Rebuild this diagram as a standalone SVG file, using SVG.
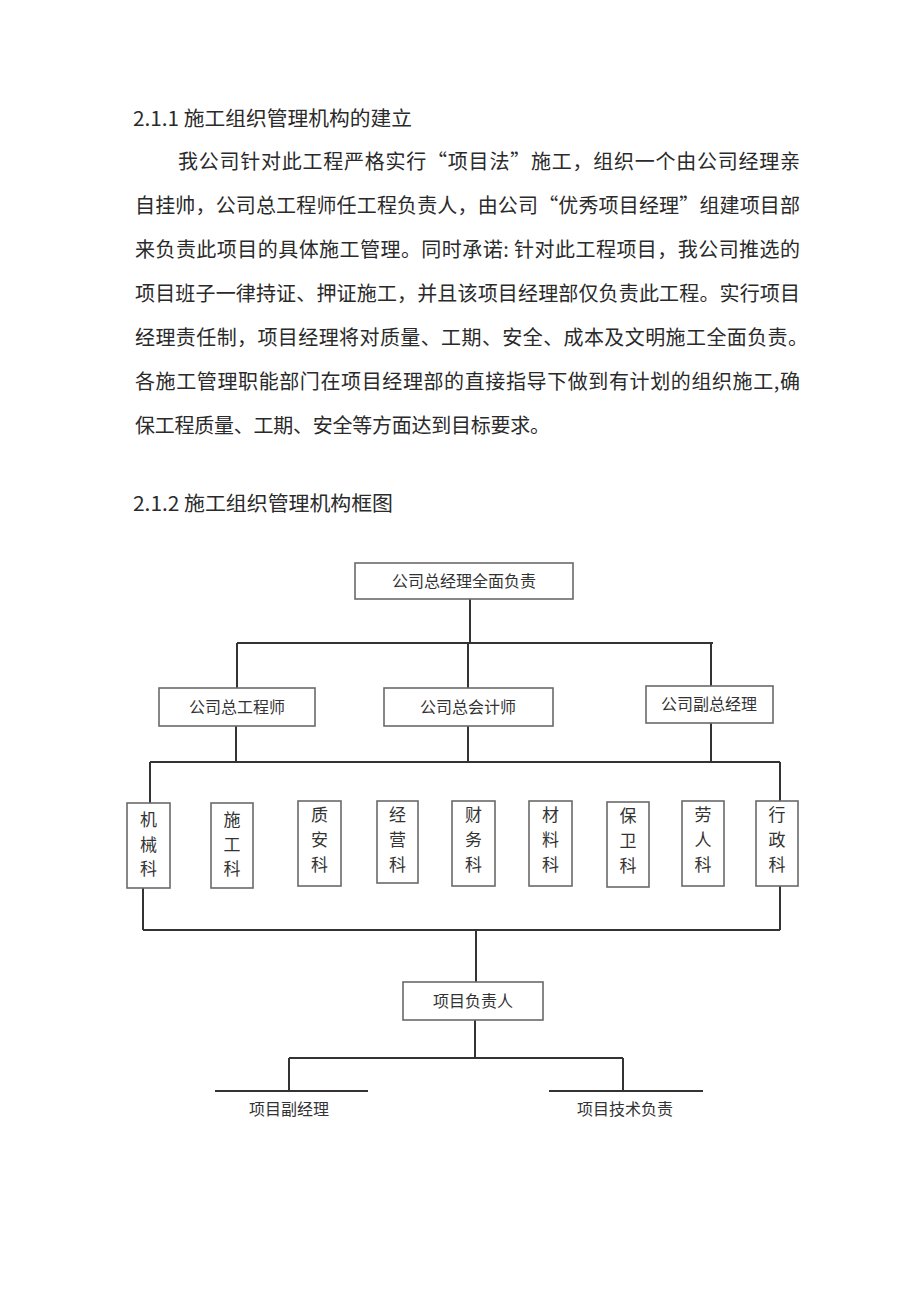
<svg xmlns="http://www.w3.org/2000/svg" width="920" height="1301" viewBox="0 0 920 1301">
<style>
.t{font-family:"Noto Sans CJK SC","Noto Sans",sans-serif;fill:#2a2a2a;font-size:20px}
.b{font-family:"Noto Sans CJK SC","Noto Sans",sans-serif;fill:#333;font-size:16px;text-anchor:middle}
.v{font-family:"Noto Sans CJK SC","Noto Sans",sans-serif;fill:#333;font-size:17px;text-anchor:middle}
.box{fill:#fff;stroke:#6a6a6a;stroke-width:1.6}
.c{fill:none;stroke:#333;stroke-width:2}
</style>
<rect width="920" height="1301" fill="#fff"/>
<g id="text">
<text class="t" x="133" y="125.5" textLength="279" lengthAdjust="spacingAndGlyphs">2.1.1 施工组织管理机构的建立</text>
<text class="t" x="178" y="168.5" textLength="622" lengthAdjust="spacing">我公司针对此工程严格实行“项目法”施工，组织一个由公司经理亲</text>
<text class="t" x="135" y="212.5" textLength="665" lengthAdjust="spacing">自挂帅，公司总工程师任工程负责人，由公司“优秀项目经理”组建项目部</text>
<text class="t" x="135" y="256.5" textLength="665" lengthAdjust="spacing">来负责此项目的具体施工管理。同时承诺: 针对此工程项目，我公司推选的</text>
<text class="t" x="135" y="300.5" textLength="665" lengthAdjust="spacing">项目班子一律持证、押证施工，并且该项目经理部仅负责此工程。实行项目</text>
<text class="t" x="135" y="344.5" textLength="673" lengthAdjust="spacing">经理责任制，项目经理将对质量、工期、安全、成本及文明施工全面负责。</text>
<text class="t" x="135" y="388.5" textLength="665" lengthAdjust="spacing">各施工管理职能部门在项目经理部的直接指导下做到有计划的组织施工,确</text>
<text class="t" x="135" y="432.5" textLength="415" lengthAdjust="spacing">保工程质量、工期、安全等方面达到目标要求。</text>
<text class="t" x="133" y="510.5" textLength="260" lengthAdjust="spacingAndGlyphs">2.1.2 施工组织管理机构框图</text>
</g>
<g id="connectors">
<path class="c" d="M470 599V643M237 643H713M237 643V688M468 643V688M711 643V686"/>
<path class="c" d="M236 726V762M468 726V762M711 723V762M150 762H780M150 762V803M780 762V801"/>
<path class="c" d="M143 888V930M780 886V930M143 930H780M476 930V982"/>
<path class="c" d="M475 1020V1058M289 1058H623M289 1058V1091M623 1058V1091"/>
<path class="c" d="M215 1091H368M549 1091H703" stroke-width="1.6"/>
</g>
<g id="n_top"><rect class="box" x="355" y="563" width="218" height="36"/><text class="b" x="464" y="587">公司总经理全面负责</text></g>
<g id="n_eng"><rect class="box" x="159" y="688" width="156" height="38"/><text class="b" x="237" y="713">公司总工程师</text></g>
<g id="n_acc"><rect class="box" x="384" y="688" width="169" height="38"/><text class="b" x="468" y="713">公司总会计师</text></g>
<g id="n_vgm"><rect class="box" x="646" y="686" width="127" height="37"/><text class="b" x="709" y="710">公司副总经理</text></g>
<g id="n_jx"><rect class="box" x="127" y="803" width="43" height="85"/><text class="v" x="148.5" y="826">机</text><text class="v" x="148.5" y="851">械</text><text class="v" x="148.5" y="875">科</text></g>
<g id="n_sg"><rect class="box" x="211" y="803" width="42" height="85"/><text class="v" x="232" y="826">施</text><text class="v" x="232" y="851">工</text><text class="v" x="232" y="875">科</text></g>
<g id="n_za"><rect class="box" x="298" y="801" width="43" height="85"/><text class="v" x="319.5" y="821">质</text><text class="v" x="319.5" y="846">安</text><text class="v" x="319.5" y="871">科</text></g>
<g id="n_jy"><rect class="box" x="377" y="801" width="41" height="82"/><text class="v" x="397.5" y="821">经</text><text class="v" x="397.5" y="846">营</text><text class="v" x="397.5" y="871">科</text></g>
<g id="n_cw"><rect class="box" x="452" y="801" width="43" height="85"/><text class="v" x="473.5" y="821">财</text><text class="v" x="473.5" y="846">务</text><text class="v" x="473.5" y="871">科</text></g>
<g id="n_cl"><rect class="box" x="529" y="801" width="43" height="85"/><text class="v" x="550.5" y="821">材</text><text class="v" x="550.5" y="846">料</text><text class="v" x="550.5" y="871">科</text></g>
<g id="n_bw"><rect class="box" x="607" y="802" width="42" height="85"/><text class="v" x="628" y="822">保</text><text class="v" x="628" y="847">卫</text><text class="v" x="628" y="872">科</text></g>
<g id="n_lr"><rect class="box" x="682" y="801" width="42" height="85"/><text class="v" x="703" y="821">劳</text><text class="v" x="703" y="846">人</text><text class="v" x="703" y="871">科</text></g>
<g id="n_xz"><rect class="box" x="756" y="801" width="42" height="85"/><text class="v" x="777" y="821">行</text><text class="v" x="777" y="846">政</text><text class="v" x="777" y="871">科</text></g>
<g id="n_pm"><rect class="box" x="403" y="982" width="140" height="38"/><text class="b" x="473" y="1007">项目负责人</text></g>
<g id="n_dpm"><text class="b" x="289" y="1115" font-size="15">项目副经理</text></g>
<g id="n_tech"><text class="b" x="625" y="1115" font-size="15">项目技术负责</text></g>
</svg>
